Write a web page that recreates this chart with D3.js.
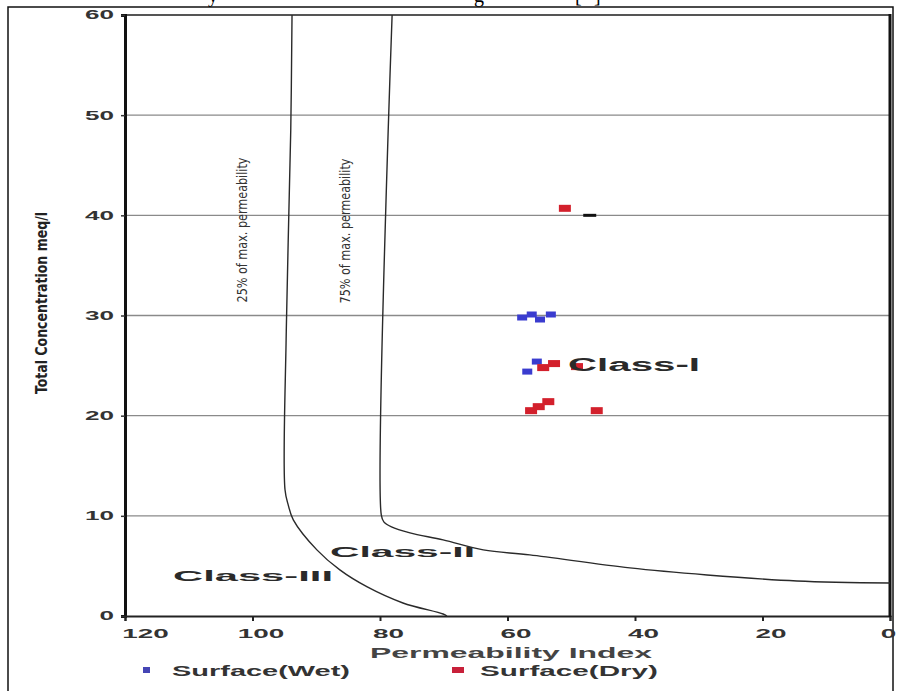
<html>
<head>
  <title>Doneen permeability index</title>
  <script src="https://d3js.org/d3.v7.min.js"></script>
</head>
<body style="margin:0; background:#fff;">
<div id="chart"></div>
<script>

// axis ticks
var yTicks = [0, 10, 20, 30, 40, 50, 60];
var xTicks = [120, 100, 80, 60, 40, 20, 0];

// Surface (Wet) samples : permeability index / total concentration
var wetPI = [57.7, 56.2, 54.9, 53.2, 55.4, 56.9];
var wetTC = [29.8, 30.1, 29.6, 30.1, 25.4, 24.4];

// Surface (Dry) samples
var dryPI = [51.0, 54.4, 52.7, 49.1, 56.3, 55.1, 53.6, 46.0];
var dryTC = [40.7, 24.8, 25.2, 24.9, 20.5, 20.9, 21.4, 20.5];

// stray dark mark next to the 40 line
var markPI = [47.1];
var markTC = [40.0];

// 25% of max. permeability boundary
var line25PI = [93.8, 94.0, 94.7, 94.9, 94.4, 93.6, 89.9, 86.3, 82.0, 76.4, 70.1, 69.5];
var line25TC = [60, 48.5, 28.5, 12.6, 11.1, 9.6, 6.6, 4.6, 2.9, 1.3, 0.2, 0];

// 75% of max. permeability boundary
var line75PI = [78.1, 79.8, 79.4, 78.2, 75.3, 70.1, 63.8, 56.5, 40.8, 28.7, 14.6, 0];
var line75TC = [60, 10.1, 9.4, 8.9, 8.3, 7.6, 6.6, 6.1, 4.8, 4.1, 3.5, 3.3];

var W = 897, H = 691;
var pLeft = 125, pRight = 890, pTop = 15, pBottom = 616;

var svg = d3.select("#chart").append("svg")
    .attr("width", W).attr("height", H)
    .style("font-family", "'Liberation Sans', Arial, sans-serif");

var x = d3.scaleLinear().domain([120, 0]).range([pLeft, pRight]);
var y = d3.scaleLinear().domain([0, 60]).range([pBottom, pTop]);

// cut off caption line at the very top
[["y", 208], ["g", 474], ["[", 575], ["]", 594]].forEach(function(c){
  svg.append("text").attr("x", c[1]).attr("y", 2)
    .style("font-family", "'Liberation Serif', serif").style("font-size", "20px")
    .text(c[0]);
});

// outer frame
svg.append("rect").attr("x", 8).attr("y", 7).attr("width", 885).attr("height", 700)
  .attr("fill", "none").attr("stroke", "#111").attr("stroke-width", 1.5);

// horizontal grid
svg.append("g").selectAll("line")
  .data(yTicks.filter(function(d){ return d > 0; }))
  .enter().append("line")
    .attr("x1", pLeft).attr("x2", pRight)
    .attr("y1", function(d){ return y(d); }).attr("y2", function(d){ return y(d); })
    .attr("stroke", function(d){ return d == 60 ? "#555" : "#8a8a8a"; })
    .attr("stroke-width", function(d){ return d == 60 ? 2 : 1.4; });

// y axis
var yAxis = svg.append("g").attr("transform", "translate(" + pLeft + ",0)")
  .call(d3.axisLeft(y).tickValues(yTicks).tickSize(4).tickPadding(7));
yAxis.select(".domain").attr("stroke", "#111").attr("stroke-width", 3);
yAxis.selectAll(".tick line").attr("stroke", "#333").attr("stroke-width", 1.5);
yAxis.selectAll(".tick text")
  .style("font-size", "12px").style("font-weight", "bold").attr("fill", "#333")
  .attr("textLength", function(d){ return String(d).length * 14.5; })
  .attr("lengthAdjust", "spacingAndGlyphs");

// x axis
var xAxis = svg.append("g").attr("transform", "translate(0," + pBottom + ")")
  .call(d3.axisBottom(x).tickValues(xTicks).tickSize(5).tickPadding(8));
xAxis.select(".domain").attr("stroke", "#222").attr("stroke-width", 2);
xAxis.selectAll(".tick line").attr("stroke", "#222").attr("stroke-width", 2);
xAxis.selectAll(".tick text")
  .style("font-size", "13px").style("font-weight", "bold").attr("fill", "#333")
  .attr("dx", function(d){ return d == 120 ? 20 : (d == 0 ? -2 : 8); })
  .attr("textLength", function(d){ return String(d).length * 15.5; })
  .attr("lengthAdjust", "spacingAndGlyphs");

// right frame
svg.append("line").attr("x1", pRight).attr("x2", pRight).attr("y1", pTop - 1).attr("y2", pBottom + 1)
  .attr("stroke", "#111").attr("stroke-width", 3);

// boundary curves
var curve = d3.line()
  .x(function(d){ return x(d[0]); })
  .y(function(d){ return y(d[1]); })
  .curve(d3.curveCatmullRom.alpha(0.5));

svg.append("path").datum(d3.zip(line25PI, line25TC))
  .attr("d", curve).attr("fill", "none").attr("stroke", "#2a2a2a").attr("stroke-width", 1.4);
svg.append("path").datum(d3.zip(line75PI, line75TC))
  .attr("d", curve).attr("fill", "none").attr("stroke", "#2a2a2a").attr("stroke-width", 1.4);

// rotated boundary labels
function vlabel(txt, bx, cy) {
  svg.append("text")
    .attr("transform", "translate(" + bx + "," + cy + ") rotate(-90)")
    .attr("text-anchor", "middle")
    .style("font-family", "'Liberation Sans Narrow', 'DejaVu Sans Condensed', sans-serif")
    .style("font-size", "14px").attr("fill", "#333")
    .attr("textLength", 145).attr("lengthAdjust", "spacingAndGlyphs")
    .text(txt);
}
vlabel("25% of max. permeability", 247, 230);
vlabel("75% of max. permeability", 350, 231);

// samples
function squares(pi, tc, color, w, h) {
  svg.append("g").selectAll("rect")
    .data(d3.zip(pi, tc))
    .enter().append("rect")
      .attr("x", function(d){ return x(d[0]) - w / 2; })
      .attr("y", function(d){ return y(d[1]) - h / 2; })
      .attr("width", w).attr("height", h)
      .attr("fill", color);
}
squares(wetPI, wetTC, "#3a3ccf", 10, 6);
squares(dryPI, dryTC, "#d3202c", 12, 7);
squares(markPI, markTC, "#111", 13, 3);

// class labels
function classLabel(txt, lx, by, size, len) {
  svg.append("text").attr("x", lx).attr("y", by)
    .style("font-size", size + "px").style("font-weight", "bold").attr("fill", "#2a2a2a")
    .attr("textLength", len).attr("lengthAdjust", "spacingAndGlyphs")
    .text(txt);
}
classLabel("Class-I", 568, 371, 18, 132);
classLabel("Class-II", 330, 557, 15, 145);
classLabel("Class-III", 173, 581, 15, 160);

// axis titles
svg.append("text")
  .attr("transform", "translate(47,303) rotate(-90)")
  .attr("text-anchor", "middle")
  .style("font-family", "'Liberation Sans Narrow', 'DejaVu Sans Condensed', sans-serif")
  .style("font-size", "16px").style("font-weight", "bold").attr("fill", "#222")
  .attr("textLength", 182).attr("lengthAdjust", "spacingAndGlyphs")
  .text("Total Concentration meq/l");

svg.append("text").attr("x", 370).attr("y", 658)
  .style("font-size", "15px").style("font-weight", "bold").attr("fill", "#444")
  .attr("textLength", 282).attr("lengthAdjust", "spacingAndGlyphs")
  .text("Permeability Index");

// legend
var legend = [["Surface(Wet)", "#4545b5", 143, 7, 172], ["Surface(Dry)", "#c8203a", 452, 12, 480]];
legend.forEach(function(l){
  svg.append("rect").attr("x", l[2]).attr("y", 667).attr("width", l[3]).attr("height", 6).attr("fill", l[1]);
  svg.append("text").attr("x", l[4]).attr("y", 676)
    .style("font-size", "14px").style("font-weight", "bold").attr("fill", "#333")
    .attr("textLength", 178).attr("lengthAdjust", "spacingAndGlyphs")
    .text(l[0]);
});

</script>
</body>
</html>
